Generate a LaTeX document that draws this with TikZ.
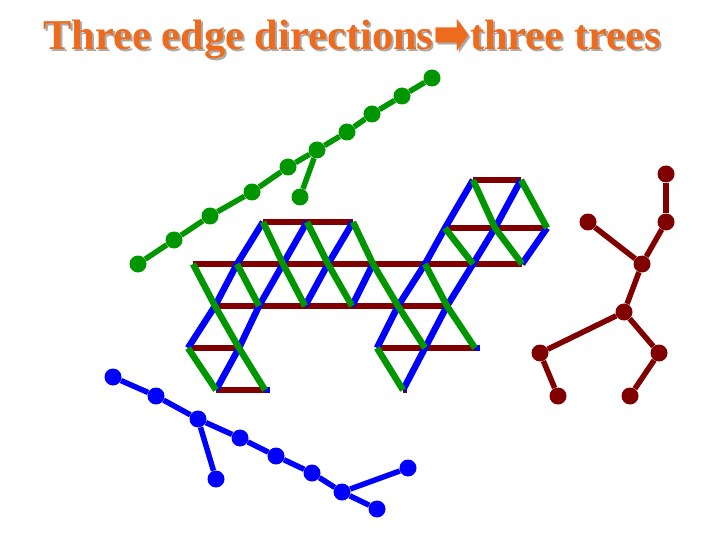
\documentclass[tikz,border=0pt]{standalone}
\usepackage{fontspec}
\setmainfont{Liberation Serif}
\newfontfamily\arrowfont{DejaVu Sans}
\usepackage{tikz}
\definecolor{headorange}{RGB}{238,106,28}
\definecolor{headshade}{RGB}{170,170,170}
\definecolor{treegreen}{RGB}{0,150,0}
\definecolor{treeblue}{RGB}{0,0,255}
\definecolor{treered}{RGB}{128,0,0}
\newcommand{\headarrow}{{\arrowfont\fontsize{38}{40}\selectfont\raisebox{-5pt}{\scalebox{1.15}[1.6]{➡}}}}

\begin{document}
\begin{tikzpicture}[x=1pt,y=-1pt]
    \tikzstyle{redge} = [line width=6.5pt,draw=treered]
    \tikzstyle{bedge} = [line width=6.5pt,draw=treeblue]
    \tikzstyle{gedge} = [line width=6.5pt,draw=treegreen]
    \tikzstyle{tnode}=[
      circle,
      inner sep=0pt,
      minimum size=17pt,
    ]
    \tikzstyle{tedge} = [line width=5.5pt]
    \tikzstyle{head}=[
      anchor=base,
      inner sep=0pt,
      font=\fontsize{42.5}{48}\selectfont\bfseries,
    ]
    \useasboundingbox (0,0) rectangle (720,540);

    % title
    \node[head,text=headshade] (headshadow) at (354,52) {Three edge directions\headarrow three trees};
    \node[head,text=headorange] (headline) at (352,50) {Three edge directions\headarrow three trees};

    % grid vertices
    \coordinate (A12) at (473,180);
    \coordinate (A14) at (521,180);
    \coordinate (B3) at (263,222);
    \coordinate (B5) at (307,222);
    \coordinate (B7) at (353,222);
    \coordinate (B11) at (445,228);
    \coordinate (B13) at (495,228);
    \coordinate (B15) at (547,228);
    \coordinate (C0) at (193,264);
    \coordinate (C2) at (237,264);
    \coordinate (C4) at (283,264);
    \coordinate (C6) at (328,264);
    \coordinate (C8) at (373,264);
    \coordinate (C10) at (425,264);
    \coordinate (C12) at (473,264);
    \coordinate (C14) at (522,264);
    \coordinate (D1) at (215,306);
    \coordinate (D3) at (259,306);
    \coordinate (D5) at (305,306);
    \coordinate (D7) at (352,306);
    \coordinate (D9) at (398,306);
    \coordinate (D11) at (447,306);
    \coordinate (E0) at (188,348);
    \coordinate (E2) at (239,348);
    \coordinate (E8) at (377,348);
    \coordinate (E10) at (425,348);
    \coordinate (E12) at (475,348);
    \coordinate (F1) at (216,390);
    \coordinate (F3) at (265,390);
    \coordinate (F9) at (403,390);

    % horizontal edges
    \draw[redge] (A12)--(A14);
    \draw[redge] (B3)--(B5)--(B7);
    \draw[redge] (B11)--(B13)--(B15);
    \draw[redge] (C0)--(C14);
    \draw[redge] (D1)--(D11);
    \draw[redge] (E0)--(E2);
    \draw[redge] (E8)--(E12);
    \draw[redge] (F1)--(F3);
    \draw[redge] (F9)--++(4,0);

    % rising edges
    \draw[bedge] (E0)--(D1)--(C2)--(B3);
    \draw[bedge] (F1)--(E2)--(D3)--(C4)--(B5);
    \draw[bedge] (D5)--(C6)--(B7);
    \draw[bedge] (D7)--(C8);
    \draw[bedge] (E8)--(D9)--(C10)--(B11)--(A12);
    \draw[bedge] (F9)--(E10)--(D11)--(C12)--(B13)--(A14);
    \draw[bedge] (C14)--(B15);
    \draw[bedge] (E12)--++(5,0);
    \draw[bedge] (F3)--++(5,0);

    % falling edges
    \draw[gedge] (C0)--(D1)--(E2)--(F3);
    \draw[gedge] (E0)--(F1);
    \draw[gedge] (B3)--(C4)--(D5);
    \draw[gedge] (C2)--(D3);
    \draw[gedge] (B5)--(C6)--(D7);
    \draw[gedge] (B7)--(C8)--(D9)--(E10);
    \draw[gedge] (C10)--(D11)--(E12);
    \draw[gedge] (B11)--(C12);
    \draw[gedge] (A12)--(B13)--(C14);
    \draw[gedge] (A14)--(B15);
    \draw[gedge] (E8)--(F9);

    % green tree
    \node[tnode,fill=treegreen] (g1) at (138,264) {};
    \node[tnode,fill=treegreen] (g2) at (174,240) {};
    \node[tnode,fill=treegreen] (g3) at (210,216) {};
    \node[tnode,fill=treegreen] (g4) at (252,192) {};
    \node[tnode,fill=treegreen] (g5) at (288,167) {};
    \node[tnode,fill=treegreen] (g6) at (317,150) {};
    \node[tnode,fill=treegreen] (g7) at (347,132) {};
    \node[tnode,fill=treegreen] (g8) at (372,114) {};
    \node[tnode,fill=treegreen] (g9) at (402,96) {};
    \node[tnode,fill=treegreen] (g10) at (432,78) {};
    \node[tnode,fill=treegreen] (g11) at (300,197) {};

    \draw[tedge,draw=treegreen] (g1)--(g2);
    \draw[tedge,draw=treegreen] (g2)--(g3);
    \draw[tedge,draw=treegreen] (g3)--(g4);
    \draw[tedge,draw=treegreen] (g4)--(g5);
    \draw[tedge,draw=treegreen] (g5)--(g6);
    \draw[tedge,draw=treegreen] (g6)--(g7);
    \draw[tedge,draw=treegreen] (g7)--(g8);
    \draw[tedge,draw=treegreen] (g8)--(g9);
    \draw[tedge,draw=treegreen] (g9)--(g10);
    \draw[tedge,draw=treegreen] (g6)--(g11);

    % red tree
    \node[tnode,fill=treered] (m1) at (666,174) {};
    \node[tnode,fill=treered] (m2) at (666,222) {};
    \node[tnode,fill=treered] (m3) at (588,222) {};
    \node[tnode,fill=treered] (m4) at (642,264) {};
    \node[tnode,fill=treered] (m5) at (624,312) {};
    \node[tnode,fill=treered] (m6) at (540,353) {};
    \node[tnode,fill=treered] (m7) at (659,353) {};
    \node[tnode,fill=treered] (m8) at (558,396) {};
    \node[tnode,fill=treered] (m9) at (630,396) {};

    \draw[tedge,draw=treered] (m1)--(m2);
    \draw[tedge,draw=treered] (m2)--(m4);
    \draw[tedge,draw=treered] (m3)--(m4);
    \draw[tedge,draw=treered] (m4)--(m5);
    \draw[tedge,draw=treered] (m5)--(m6);
    \draw[tedge,draw=treered] (m5)--(m7);
    \draw[tedge,draw=treered] (m6)--(m8);
    \draw[tedge,draw=treered] (m7)--(m9);

    % blue tree
    \node[tnode,fill=treeblue] (b1) at (113,377) {};
    \node[tnode,fill=treeblue] (b2) at (156,396) {};
    \node[tnode,fill=treeblue] (b3) at (198,419) {};
    \node[tnode,fill=treeblue] (b4) at (216,479) {};
    \node[tnode,fill=treeblue] (b5) at (240,438) {};
    \node[tnode,fill=treeblue] (b6) at (276,456) {};
    \node[tnode,fill=treeblue] (b7) at (312,473) {};
    \node[tnode,fill=treeblue] (b8) at (342,492) {};
    \node[tnode,fill=treeblue] (b9) at (408,468) {};
    \node[tnode,fill=treeblue] (b10) at (377,509) {};

    \draw[tedge,draw=treeblue] (b1)--(b2);
    \draw[tedge,draw=treeblue] (b2)--(b3);
    \draw[tedge,draw=treeblue] (b3)--(b5);
    \draw[tedge,draw=treeblue] (b3)--(b4);
    \draw[tedge,draw=treeblue] (b5)--(b6);
    \draw[tedge,draw=treeblue] (b6)--(b7);
    \draw[tedge,draw=treeblue] (b7)--(b8);
    \draw[tedge,draw=treeblue] (b8)--(b10);
    \draw[tedge,draw=treeblue] (b8)--(b9);
  \end{tikzpicture}
\end{document}
